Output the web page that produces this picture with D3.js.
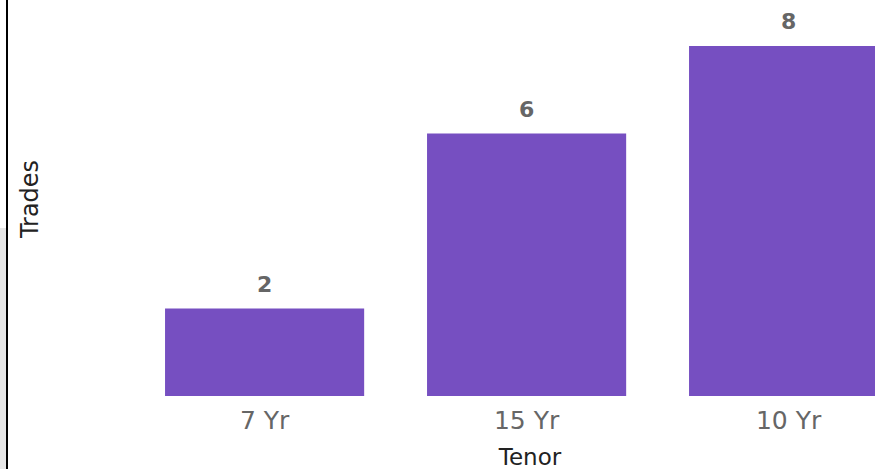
<!DOCTYPE html>
<html><head><meta charset="utf-8">
<script src="https://cdn.jsdelivr.net/npm/d3@7"></script>
<style>html,body{margin:0;padding:0;background:#fff;overflow:hidden}</style>
</head><body>
<svg id="c" width="875" height="469"></svg>
<script>
const categories = ["7 Yr", "15 Yr", "10 Yr"];
const trades = [2, 6, 8];
const xTitle = "Tenor";
const yTitle = "Trades";

const svg = d3.select("#c");
const font = "'DejaVu Sans', sans-serif";

// side panel decoration at left
svg.append("rect").attr("x", 0).attr("y", 228).attr("width", 6).attr("height", 241).attr("fill", "#e6e6e6");
svg.append("rect").attr("x", 6).attr("y", 0).attr("width", 2).attr("height", 469).attr("fill", "#000");

const x = d3.scaleBand().domain(categories).range([133.6, 919.6]).paddingInner(0.24).paddingOuter(0.12);
const y = d3.scaleLinear().domain([0, 8]).range([396, 46]);

svg.append("g").selectAll("rect").data(categories).join("rect")
  .attr("x", d => x(d)).attr("width", x.bandwidth())
  .attr("y", (d, i) => y(trades[i])).attr("height", (d, i) => y(0) - y(trades[i]))
  .attr("fill", "#764fc1");

svg.append("g").selectAll("text").data(categories).join("text")
  .attr("x", d => x(d) + x.bandwidth() / 2)
  .attr("y", (d, i) => y(trades[i]) - 17)
  .attr("text-anchor", "middle")
  .attr("font-family", font).attr("font-weight", "bold").attr("font-size", 22)
  .attr("fill", "#666").text((d, i) => trades[i]);

const xAxis = svg.append("g").attr("transform", "translate(0,396)")
  .call(d3.axisBottom(x).tickSize(0).tickPadding(15));
xAxis.select(".domain").remove();
xAxis.selectAll("text").attr("font-family", font).attr("font-size", 25).attr("fill", "#666");

svg.append("text").attr("x", 530).attr("y", 465).attr("text-anchor", "middle")
  .attr("font-family", font).attr("font-size", 23).attr("fill", "#222").text(xTitle);

svg.append("text").attr("transform", "translate(38,199) rotate(-90)").attr("text-anchor", "middle")
  .attr("font-family", font).attr("font-size", 24).attr("fill", "#222").text(yTitle);
</script>
</body></html>
